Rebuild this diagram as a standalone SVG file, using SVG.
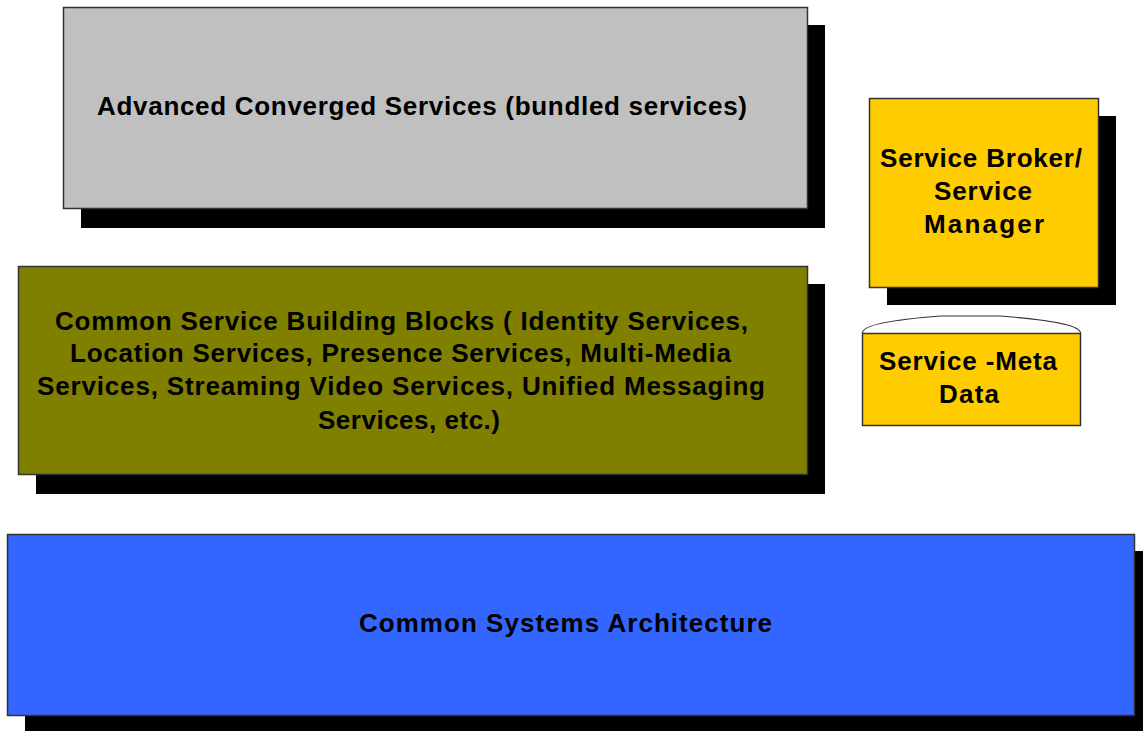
<svg xmlns="http://www.w3.org/2000/svg" width="1143" height="731" viewBox="0 0 1143 731">
<style>
.sh{fill:#000}
.bx{stroke:#333;stroke-width:1.5}
text{font-family:"Liberation Sans",Arial,sans-serif;font-weight:bold;font-size:26px;fill:#000;text-anchor:middle}
</style>
<rect width="1143" height="731" fill="#fff"/>
<g id="advanced">
<rect class="sh" x="81" y="25" width="744" height="203"/>
<rect class="bx" x="63.5" y="7.5" width="744" height="201" fill="#c0c0c0"/>
<text x="422" y="115" textLength="650" lengthAdjust="spacing">Advanced Converged Services (bundled services)</text>
</g>
<g id="building-blocks">
<rect class="sh" x="36" y="284" width="789" height="210"/>
<rect class="bx" x="18.5" y="266.5" width="789" height="208" fill="#808000"/>
<text x="401.5" y="330" textLength="693" lengthAdjust="spacing">Common Service Building Blocks ( Identity Services,</text>
<text x="400.5" y="362" textLength="661" lengthAdjust="spacing">Location Services, Presence Services, Multi-Media</text>
<text x="401" y="395" textLength="728" lengthAdjust="spacing">Services, Streaming Video Services, Unified Messaging</text>
<text x="409" y="429" textLength="182" lengthAdjust="spacing">Services, etc.)</text>
</g>
<g id="systems-arch">
<rect class="sh" x="25" y="551" width="1118" height="180"/>
<rect class="bx" x="7.5" y="534.5" width="1127" height="181" fill="#3366ff"/>
<text x="565.5" y="632" textLength="413" lengthAdjust="spacing">Common Systems Architecture</text>
</g>
<g id="broker">
<rect class="sh" x="887" y="116" width="229" height="189"/>
<rect class="bx" x="869.5" y="98.5" width="229" height="189" fill="#ffcc00"/>
<text x="981" y="167" textLength="202" lengthAdjust="spacing">Service Broker/</text>
<text x="983" y="200" textLength="98" lengthAdjust="spacing">Service</text>
<text x="984" y="233" textLength="120" lengthAdjust="spacing">Manager</text>
</g>
<g id="meta-data">
<path d="M862.5,333 Q862,322 941,316 L1000,316 Q1080,322 1080.5,333" fill="none" stroke="#333" stroke-width="1.2"/>
<rect class="bx" x="862.5" y="333.5" width="218" height="92" fill="#ffcc00"/>
<text x="968" y="370" textLength="178" lengthAdjust="spacing">Service -Meta</text>
<text x="969" y="403" textLength="60" lengthAdjust="spacing">Data</text>
</g>
</svg>
